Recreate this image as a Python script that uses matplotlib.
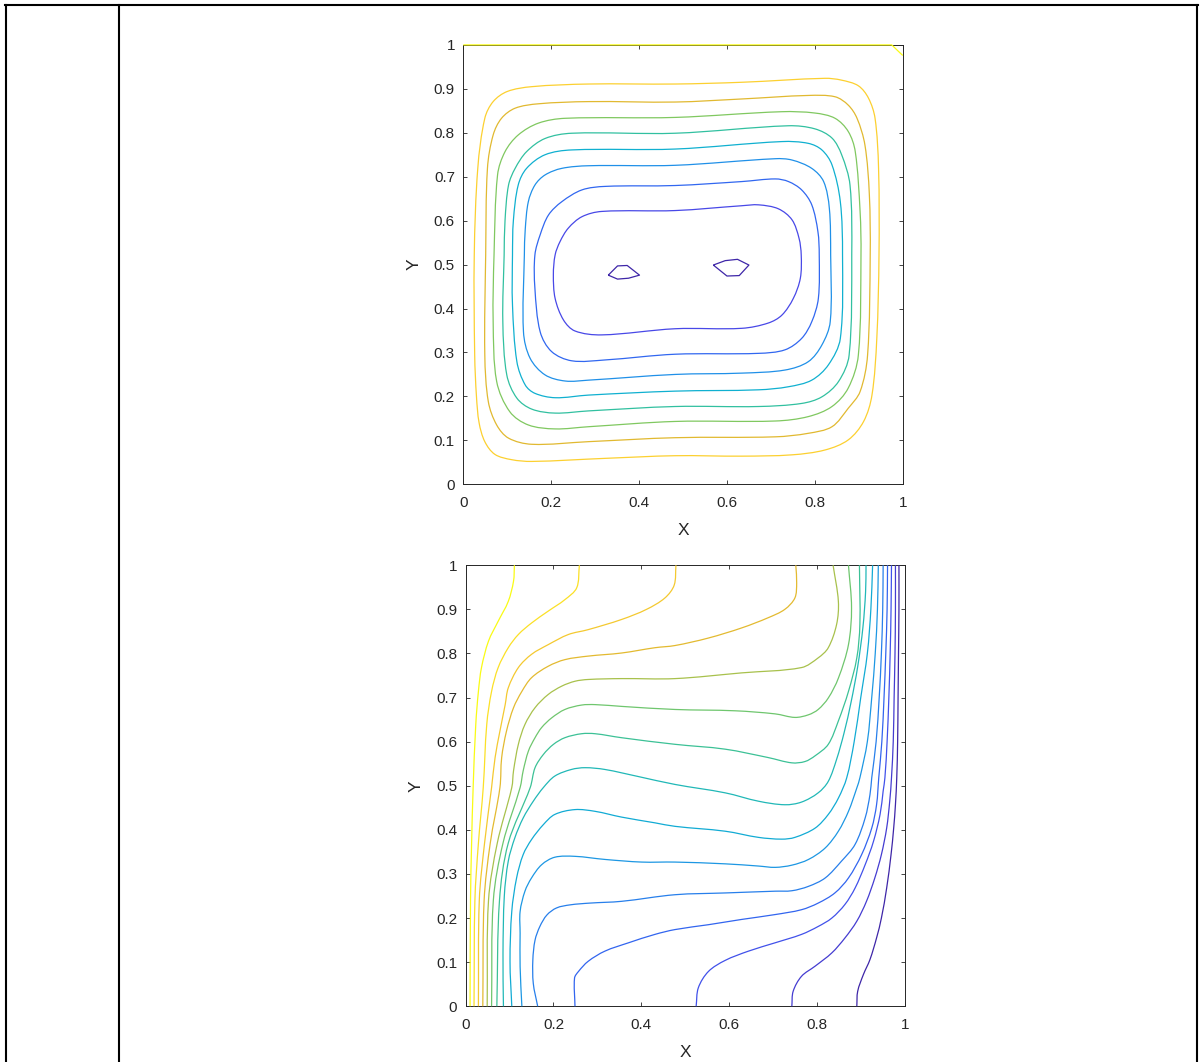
import numpy as np
import matplotlib.pyplot as plt
from matplotlib.colors import LinearSegmentedColormap, Normalize
from matplotlib.lines import Line2D
from matplotlib.path import Path
from matplotlib.patches import PathPatch

plt.rcParams['font.family'] = ['Liberation Sans', 'DejaVu Sans']

# ---- upper panel: stream function contours (x, y) ----
psi_0a = [(0.330, 0.476), (0.351, 0.497), (0.373, 0.498), (0.401, 0.476), (0.376, 0.469),
          (0.351, 0.467), (0.330, 0.476)]
psi_0b = [(0.569, 0.499), (0.596, 0.509), (0.624, 0.512), (0.650, 0.499), (0.628, 0.475),
          (0.600, 0.474), (0.569, 0.499)]
psi_1 = [(0.209, 0.522), (0.205, 0.477), (0.209, 0.423), (0.228, 0.374), (0.254, 0.349),
         (0.315, 0.340), (0.482, 0.354), (0.634, 0.355), (0.694, 0.367), (0.725, 0.385),
         (0.751, 0.423), (0.767, 0.469), (0.769, 0.522), (0.764, 0.560), (0.748, 0.602),
         (0.717, 0.627), (0.672, 0.636), (0.634, 0.634), (0.482, 0.623), (0.315, 0.621),
         (0.270, 0.609), (0.239, 0.583), (0.220, 0.552), (0.209, 0.522)]
psi_2 = [(0.163, 0.522), (0.163, 0.446), (0.175, 0.347), (0.201, 0.302), (0.247, 0.281),
         (0.323, 0.283), (0.482, 0.296), (0.672, 0.298), (0.732, 0.306), (0.770, 0.332),
         (0.793, 0.370), (0.808, 0.423), (0.810, 0.522), (0.807, 0.575), (0.793, 0.636),
         (0.770, 0.670), (0.740, 0.689), (0.710, 0.695), (0.634, 0.689), (0.482, 0.680),
         (0.323, 0.678), (0.270, 0.670), (0.224, 0.643), (0.194, 0.613), (0.175, 0.568),
         (0.163, 0.522)]
psi_3 = [(0.139, 0.522), (0.137, 0.347), (0.152, 0.287), (0.186, 0.249), (0.232, 0.235),
         (0.285, 0.237), (0.482, 0.250), (0.634, 0.253), (0.732, 0.260), (0.785, 0.279),
         (0.816, 0.317), (0.835, 0.370), (0.836, 0.522), (0.833, 0.628), (0.820, 0.689),
         (0.793, 0.719), (0.748, 0.738), (0.710, 0.741), (0.482, 0.726), (0.285, 0.725),
         (0.224, 0.719), (0.186, 0.704), (0.163, 0.681), (0.148, 0.643), (0.141, 0.580),
         (0.139, 0.522)]
psi_4 = [(0.112, 0.522), (0.112, 0.408), (0.122, 0.279), (0.141, 0.226), (0.163, 0.207),
         (0.209, 0.197), (0.285, 0.203), (0.482, 0.212), (0.672, 0.215), (0.740, 0.222),
         (0.793, 0.237), (0.831, 0.272), (0.858, 0.332), (0.863, 0.522), (0.858, 0.643),
         (0.839, 0.727), (0.816, 0.761), (0.785, 0.776), (0.725, 0.780), (0.482, 0.763),
         (0.247, 0.761), (0.186, 0.750), (0.144, 0.719), (0.125, 0.681), (0.114, 0.600),
         (0.112, 0.522)]
psi_5 = [(0.093, 0.522), (0.090, 0.370), (0.099, 0.249), (0.122, 0.196), (0.156, 0.171),
         (0.209, 0.162), (0.285, 0.167), (0.482, 0.177), (0.672, 0.177), (0.770, 0.184),
         (0.816, 0.199), (0.854, 0.234), (0.878, 0.294), (0.884, 0.522), (0.880, 0.681),
         (0.861, 0.750), (0.839, 0.788), (0.800, 0.809), (0.740, 0.816), (0.482, 0.799),
         (0.247, 0.799), (0.186, 0.787), (0.144, 0.757), (0.118, 0.719), (0.103, 0.681),
         (0.095, 0.600), (0.093, 0.522)]
psi_6 = [(0.070, 0.522), (0.068, 0.370), (0.076, 0.234), (0.106, 0.165), (0.148, 0.135),
         (0.209, 0.126), (0.285, 0.131), (0.482, 0.143), (0.710, 0.144), (0.785, 0.154),
         (0.839, 0.177), (0.876, 0.219), (0.899, 0.294), (0.905, 0.522), (0.903, 0.620),
         (0.892, 0.757), (0.876, 0.803), (0.846, 0.833), (0.800, 0.845), (0.725, 0.848),
         (0.482, 0.835), (0.232, 0.833), (0.171, 0.822), (0.125, 0.795), (0.095, 0.757),
         (0.078, 0.704), (0.070, 0.522)]
psi_7 = [(0.051, 0.522), (0.049, 0.294), (0.057, 0.188), (0.076, 0.135), (0.103, 0.105),
         (0.156, 0.091), (0.285, 0.097), (0.482, 0.106), (0.710, 0.108), (0.785, 0.116),
         (0.839, 0.131), (0.876, 0.173), (0.903, 0.211), (0.920, 0.294), (0.926, 0.522),
         (0.924, 0.660), (0.914, 0.772), (0.896, 0.833), (0.876, 0.863), (0.846, 0.882),
         (0.785, 0.885), (0.634, 0.877), (0.482, 0.870), (0.285, 0.871), (0.171, 0.866),
         (0.118, 0.856), (0.087, 0.833), (0.068, 0.795), (0.055, 0.719), (0.051, 0.522)]
psi_8 = [(0.025, 0.522), (0.026, 0.294), (0.030, 0.200), (0.036, 0.140), (0.049, 0.097),
         (0.072, 0.068), (0.110, 0.056), (0.156, 0.052), (0.323, 0.059), (0.482, 0.065),
         (0.634, 0.064), (0.748, 0.067), (0.823, 0.078), (0.876, 0.101), (0.911, 0.143),
         (0.930, 0.203), (0.941, 0.332), (0.946, 0.522), (0.945, 0.719), (0.937, 0.833),
         (0.922, 0.879), (0.899, 0.907), (0.860, 0.920), (0.823, 0.924), (0.634, 0.915),
         (0.482, 0.911), (0.285, 0.911), (0.156, 0.905), (0.100, 0.894), (0.068, 0.871),
         (0.049, 0.833), (0.033, 0.719), (0.025, 0.522)]
psi_9 = [(0.0, 1.0), (0.975, 1.0), (1.0, 0.976)]

psi_lines = [psi_0a, psi_0b, psi_1, psi_2, psi_3, psi_4, psi_5, psi_6, psi_7, psi_8, psi_9]
psi_level = [0, 0, 1, 2, 3, 4, 5, 6, 7, 8, 9]
psi_closed = [True] * 10 + [False]
psi_smooth = [False, False] + [True] * 8 + [False]

# ---- lower panel: isotherms (x, y) ----
t_1 = [(0.010, 0.0), (0.011, 0.24), (0.0135, 0.37), (0.017, 0.496), (0.023, 0.639),
       (0.029, 0.714), (0.036, 0.768), (0.052, 0.828), (0.074, 0.873), (0.097, 0.918),
       (0.109, 0.964), (0.111, 1.0)]
t_2 = [(0.019, 0.0), (0.021, 0.24), (0.029, 0.37), (0.040, 0.496), (0.048, 0.639),
       (0.059, 0.714), (0.074, 0.768), (0.097, 0.813), (0.120, 0.843), (0.150, 0.869),
       (0.188, 0.896), (0.226, 0.922), (0.253, 0.949), (0.259, 1.0)]
t_3 = [(0.029, 0.0), (0.031, 0.24), (0.043, 0.37), (0.059, 0.496), (0.067, 0.564),
       (0.078, 0.624), (0.090, 0.684), (0.097, 0.722), (0.120, 0.768), (0.150, 0.798),
       (0.188, 0.820), (0.234, 0.843), (0.279, 0.854), (0.355, 0.877), (0.412, 0.900),
       (0.454, 0.926), (0.475, 0.955), (0.479, 1.0)]
t_4 = [(0.039, 0.0), (0.042, 0.24), (0.056, 0.37), (0.078, 0.496), (0.082, 0.564),
       (0.093, 0.624), (0.109, 0.677), (0.128, 0.714), (0.150, 0.745), (0.188, 0.771),
       (0.226, 0.786), (0.279, 0.794), (0.355, 0.801), (0.431, 0.813), (0.477, 0.818),
       (0.553, 0.835), (0.629, 0.858), (0.689, 0.881), (0.727, 0.900), (0.750, 0.926),
       (0.754, 0.960), (0.752, 1.0)]
t_5 = [(0.049, 0.0), (0.052, 0.24), (0.072, 0.37), (0.105, 0.496), (0.109, 0.534),
       (0.120, 0.594), (0.135, 0.639), (0.158, 0.677), (0.188, 0.707), (0.219, 0.726),
       (0.249, 0.737), (0.279, 0.741), (0.355, 0.743), (0.477, 0.743), (0.629, 0.756),
       (0.765, 0.768), (0.803, 0.790), (0.826, 0.813), (0.845, 0.866), (0.849, 0.918),
       (0.837, 1.0)]
t_6 = [(0.059, 0.0), (0.063, 0.24), (0.085, 0.37), (0.124, 0.496), (0.131, 0.534),
       (0.143, 0.579), (0.158, 0.609), (0.173, 0.632), (0.196, 0.654), (0.226, 0.673),
       (0.264, 0.683), (0.295, 0.684), (0.355, 0.680), (0.477, 0.673), (0.614, 0.670),
       (0.705, 0.663), (0.750, 0.655), (0.781, 0.661), (0.803, 0.673), (0.826, 0.699),
       (0.849, 0.744), (0.872, 0.820), (0.879, 0.903), (0.872, 1.0)]
t_7 = [(0.071, 0.0), (0.077, 0.24), (0.097, 0.37), (0.147, 0.496), (0.158, 0.541),
       (0.177, 0.571), (0.200, 0.594), (0.226, 0.609), (0.264, 0.618), (0.295, 0.618),
       (0.355, 0.609), (0.477, 0.594), (0.591, 0.583), (0.689, 0.564), (0.743, 0.552),
       (0.773, 0.555), (0.796, 0.568), (0.826, 0.594), (0.849, 0.647), (0.872, 0.714),
       (0.891, 0.790), (0.898, 0.866), (0.897, 1.0)]
t_8 = [(0.086, 0.0), (0.085, 0.12), (0.088, 0.25), (0.097, 0.329), (0.112, 0.382),
       (0.131, 0.427), (0.154, 0.465), (0.177, 0.496), (0.203, 0.522), (0.241, 0.537),
       (0.272, 0.541), (0.317, 0.537), (0.393, 0.521), (0.477, 0.503), (0.591, 0.484),
       (0.667, 0.465), (0.727, 0.457), (0.765, 0.463), (0.803, 0.484), (0.826, 0.510),
       (0.845, 0.560), (0.862, 0.620), (0.878, 0.690), (0.893, 0.770), (0.905, 0.860),
       (0.911, 0.940), (0.912, 1.0)]
t_9 = [(0.105, 0.0), (0.101, 0.102), (0.105, 0.215), (0.116, 0.291), (0.131, 0.344),
       (0.150, 0.378), (0.177, 0.412), (0.203, 0.435), (0.249, 0.446), (0.295, 0.442),
       (0.355, 0.429), (0.431, 0.416), (0.477, 0.408), (0.591, 0.397), (0.667, 0.383),
       (0.720, 0.379), (0.750, 0.383), (0.796, 0.404), (0.826, 0.435), (0.849, 0.472),
       (0.868, 0.518), (0.885, 0.600), (0.900, 0.700), (0.915, 0.800), (0.923, 0.900),
       (0.927, 1.0)]
t_10 = [(0.128, 0.0), (0.124, 0.090), (0.124, 0.166), (0.124, 0.215), (0.135, 0.261),
        (0.150, 0.291), (0.173, 0.321), (0.203, 0.338), (0.249, 0.340), (0.317, 0.333),
        (0.401, 0.327), (0.477, 0.327), (0.591, 0.323), (0.667, 0.318), (0.705, 0.315),
        (0.743, 0.320), (0.781, 0.333), (0.819, 0.359), (0.849, 0.397), (0.872, 0.442),
        (0.891, 0.495), (0.898, 0.518), (0.915, 0.600), (0.925, 0.700), (0.933, 0.800),
        (0.938, 0.900), (0.940, 1.0)]
t_11 = [(0.164, 0.0), (0.154, 0.052), (0.153, 0.105), (0.158, 0.150), (0.169, 0.181),
        (0.185, 0.207), (0.207, 0.223), (0.238, 0.230), (0.283, 0.234), (0.355, 0.238),
        (0.477, 0.253), (0.591, 0.257), (0.705, 0.261), (0.743, 0.262), (0.781, 0.272),
        (0.819, 0.291), (0.856, 0.329), (0.887, 0.367), (0.910, 0.427), (0.921, 0.480),
        (0.925, 0.518), (0.935, 0.600), (0.942, 0.700), (0.947, 0.800), (0.950, 0.900),
        (0.951, 1.0)]
t_12 = [(0.249, 0.0), (0.248, 0.064), (0.257, 0.079), (0.279, 0.102), (0.317, 0.125),
        (0.371, 0.144), (0.431, 0.163), (0.477, 0.174), (0.553, 0.185), (0.629, 0.197),
        (0.705, 0.208), (0.765, 0.219), (0.803, 0.234), (0.841, 0.257), (0.872, 0.291),
        (0.902, 0.344), (0.925, 0.404), (0.936, 0.457), (0.941, 0.518), (0.948, 0.600),
        (0.953, 0.700), (0.957, 0.800), (0.960, 0.900), (0.961, 1.0)]
t_13 = [(0.525, 0.0), (0.530, 0.042), (0.553, 0.079), (0.591, 0.104), (0.644, 0.125),
        (0.705, 0.144), (0.765, 0.163), (0.803, 0.181), (0.834, 0.200), (0.864, 0.231),
        (0.887, 0.268), (0.910, 0.321), (0.929, 0.374), (0.944, 0.435), (0.951, 0.488),
        (0.955, 0.518), (0.960, 0.600), (0.964, 0.700), (0.967, 0.800), (0.969, 0.900),
        (0.970, 1.0)]
t_14 = [(0.743, 0.0), (0.746, 0.034), (0.765, 0.068), (0.796, 0.091), (0.834, 0.121),
        (0.864, 0.155), (0.891, 0.193), (0.913, 0.238), (0.932, 0.291), (0.947, 0.344),
        (0.959, 0.404), (0.966, 0.465), (0.970, 0.518), (0.974, 0.600), (0.976, 0.700),
        (0.978, 0.800), (0.979, 0.900), (0.979, 1.0)]
t_15 = [(0.891, 0.0), (0.893, 0.034), (0.906, 0.072), (0.921, 0.106), (0.936, 0.155),
        (0.947, 0.200), (0.959, 0.268), (0.969, 0.344), (0.975, 0.404), (0.979, 0.457),
        (0.982, 0.518), (0.984, 0.600), (0.985, 0.700), (0.986, 0.800), (0.987, 0.900),
        (0.987, 1.0)]

theta_lines = [t_1, t_2, t_3, t_4, t_5, t_6, t_7, t_8, t_9, t_10, t_11, t_12, t_13, t_14, t_15]
theta_level = [0.9375, 0.875, 0.8125, 0.75, 0.6875, 0.625, 0.5625, 0.5, 0.4375, 0.375,
               0.3125, 0.25, 0.1875, 0.125, 0.0625]
theta_closed = [False] * 15
theta_smooth = [True] * 15

x_ticks = [0, 0.2, 0.4, 0.6, 0.8, 1]
x_tick_labels = ['0', '0.2', '0.4', '0.6', '0.8', '1']
y_ticks = [0, 0.1, 0.2, 0.3, 0.4, 0.5, 0.6, 0.7, 0.8, 0.9, 1]
y_tick_labels = ['0', '0.1', '0.2', '0.3', '0.4', '0.5', '0.6', '0.7', '0.8', '0.9', '1']

# parula-like colour map
parula = LinearSegmentedColormap.from_list('parula', [
    (0.0, '#3e26a8'), (0.111, '#4848e8'), (0.222, '#3068f0'), (0.333, '#2090e8'),
    (0.444, '#10b0d0'), (0.556, '#30c0a0'), (0.667, '#80c860'), (0.778, '#e0b830'),
    (0.889, '#fcd030'), (1.0, '#f9fb14')])

INK = '#262626'


def smooth_path(pts, closed):
    # smooth curve through the read points (chord-length Catmull-Rom as Bezier)
    p = np.asarray(pts, float)
    if closed:
        p = p[:-1]
        ext = np.vstack([p[-1], p, p[0], p[1]])
    else:
        ext = np.vstack([2 * p[0] - p[1], p, 2 * p[-1] - p[-2]])
    d = np.linalg.norm(np.diff(ext, axis=0), axis=1)
    verts = [ext[1]]
    codes = [Path.MOVETO]
    for i in range(1, len(ext) - 2):
        t1 = (ext[i + 1] - ext[i - 1]) / (d[i - 1] + d[i])
        t2 = (ext[i + 2] - ext[i]) / (d[i] + d[i + 1])
        verts += [ext[i] + t1 * d[i] / 3, ext[i + 1] - t2 * d[i] / 3, ext[i + 1]]
        codes += [Path.CURVE4] * 3
    return Path(verts, codes)


def style(ax):
    ax.set_xlim(0, 1)
    ax.set_ylim(0, 1)
    ax.set_xticks(x_ticks)
    ax.set_xticklabels(x_tick_labels)
    ax.set_yticks(y_ticks)
    ax.set_yticklabels(y_tick_labels)
    ax.tick_params(direction='in', length=3.2, width=0.6, top=True, right=True,
                   labelsize=11, colors=INK)
    ax.tick_params(axis='x', pad=8.5)
    ax.tick_params(axis='y', pad=6)
    for s in ax.spines.values():
        s.set_linewidth(0.7)
        s.set_color(INK)
    ax.set_xlabel('X', fontsize=12.5, color=INK, labelpad=9)
    ax.set_ylabel('Y', fontsize=12.5, color=INK, labelpad=9)


def draw(ax, lines, levels, closed, smooth):
    norm = Normalize(vmin=min(levels), vmax=max(levels))
    for pts, lev, cl, sm in zip(lines, levels, closed, smooth):
        if sm:
            path = smooth_path(pts, cl)
        else:
            path = Path(np.asarray(pts, float))
        ax.add_patch(PathPatch(path, fill=False, edgecolor=parula(norm(lev)),
                               lw=0.9, clip_on=False, zorder=3, joinstyle='round'))


fig = plt.figure(figsize=(12.03, 10.62), dpi=100)

ax1 = fig.add_axes([0.3851, 0.5440, 0.3653, 0.4137])
draw(ax1, psi_lines, psi_level, psi_closed, psi_smooth)
style(ax1)

ax2 = fig.add_axes([0.3871, 0.05245, 0.3649, 0.4153])
draw(ax2, theta_lines, theta_level, theta_closed, theta_smooth)
style(ax2)

# table frame around the figure
W, H = 1203.0, 1062.0
for x in (6, 118.5, 1197):
    fig.add_artist(Line2D([x / W, x / W], [0, 1 - 5 / H], color='black', lw=1.5))
fig.add_artist(Line2D([5 / W, 1198 / W], [1 - 5 / H, 1 - 5 / H], color='black', lw=1.5))

fig.savefig('out.png', dpi=100)
